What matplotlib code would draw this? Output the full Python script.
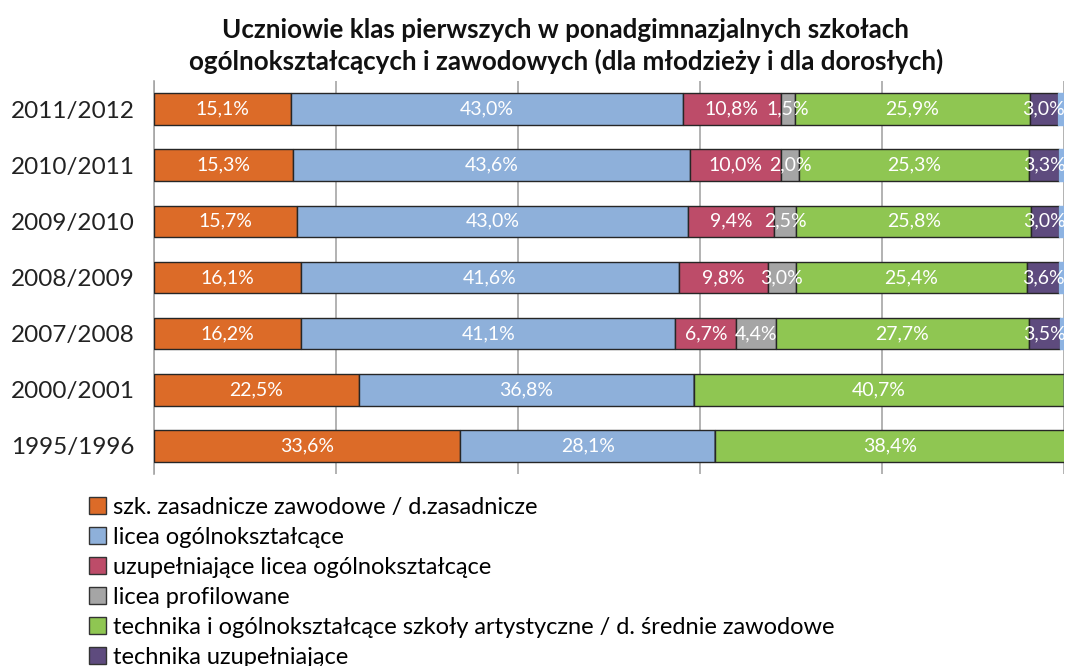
import numpy as np
import matplotlib
matplotlib.use('Agg')
import matplotlib.pyplot as plt
from matplotlib.patches import Patch

plt.rcParams['font.family'] = ['Lato', 'DejaVu Sans']

# dane
years = ['2011/2012', '2010/2011', '2009/2010', '2008/2009', '2007/2008', '2000/2001', '1995/1996']
zasadnicze = [15.1, 15.3, 15.7, 16.1, 16.2, 22.5, 33.6]
licea = [43.0, 43.6, 43.0, 41.6, 41.1, 36.8, 28.1]
uzup_licea = [10.8, 10.0, 9.4, 9.8, 6.7, 0, 0]
profilowane = [1.5, 2.0, 2.5, 3.0, 4.4, 0, 0]
technika = [25.9, 25.3, 25.8, 25.4, 27.7, 40.7, 38.4]
tech_uzup = [3.0, 3.3, 3.0, 3.6, 3.5, 0, 0]
reszta = [0.7, 0.5, 0.6, 0.5, 0.4, 0, 0]

series_names = ['szk. zasadnicze zawodowe / d.zasadnicze',
                'licea ogólnokształcące',
                'uzupełniające licea ogólnokształcące',
                'licea profilowane',
                'technika i ogólnokształcące szkoły artystyczne / d. średnie zawodowe',
                'technika uzupełniające']
colors = ['#DC6B28', '#8EB0DA', '#BD4C69', '#A5A5A5', '#8FC652', '#5E4B7E', '#8DB3E2']

series = [zasadnicze, licea, uzup_licea, profilowane, technika, tech_uzup, reszta]

fig = plt.figure(figsize=(10.66, 6.66), dpi=100)
ax = fig.add_axes([154 / 1066, 1 - 474 / 666, 910 / 1066, 393 / 666])

y = np.arange(len(years))
left = np.zeros(len(years))
for i, (vals, col) in enumerate(zip(series, colors)):
    vals = np.array(vals)
    ax.barh(y, vals, left=left, height=0.56, color=col,
            edgecolor='#262626' if i < 6 else col, linewidth=1.0, zorder=3)
    if i < 6:
        for yy, v, l in zip(y, vals, left):
            if v <= 0:
                continue
            txt = f'{v:.1f}%'.replace('.', ',')
            kw = {}
            if i == 0:
                kw['bbox'] = dict(facecolor=col, edgecolor='none', pad=3.5)
            ax.text(l + v / 2, yy, txt, ha='center', va='center', color='white',
                    fontsize=14, zorder=5, **kw)
    left += vals

ax.set_xlim(0, 100)
ax.set_ylim(6.5, -0.5)
ax.set_xticks(np.arange(0, 101, 20))
ax.set_xticklabels([])
ax.tick_params(axis='x', length=0)
ax.tick_params(axis='y', length=0, labelsize=17.5, pad=14)
ax.set_yticks(y)
ax.set_yticklabels(years, color='#222222')
ax.grid(axis='x', color='#A6A6A6', linewidth=1.2, zorder=0)
for s in ['top', 'right', 'bottom']:
    ax.spines[s].set_visible(False)
ax.spines['left'].set_color('#A6A6A6')
ax.spines['left'].set_linewidth(1.2)

fig.text(566 / 1066, 1 - 46 / 666,
         'Uczniowie klas pierwszych w ponadgimnazjalnych szkołach\n'
         'ogólnokształcących i zawodowych (dla młodzieży i dla dorosłych)',
         ha='center', va='center', fontsize=18.7, fontweight='bold',
         linespacing=1.3, color='#111111')

handles = [Patch(facecolor=c, edgecolor='#333333', linewidth=1.0) for c in colors[:6]]
fig.legend(handles, series_names, loc='upper left',
           bbox_to_anchor=(89 / 1066, 1 - 497 / 666), frameon=False,
           fontsize=17, handlelength=0.7, handleheight=0.7,
           handletextpad=0.3, labelspacing=0.38, borderaxespad=0, borderpad=0)

fig.savefig('out.png', dpi=100)
